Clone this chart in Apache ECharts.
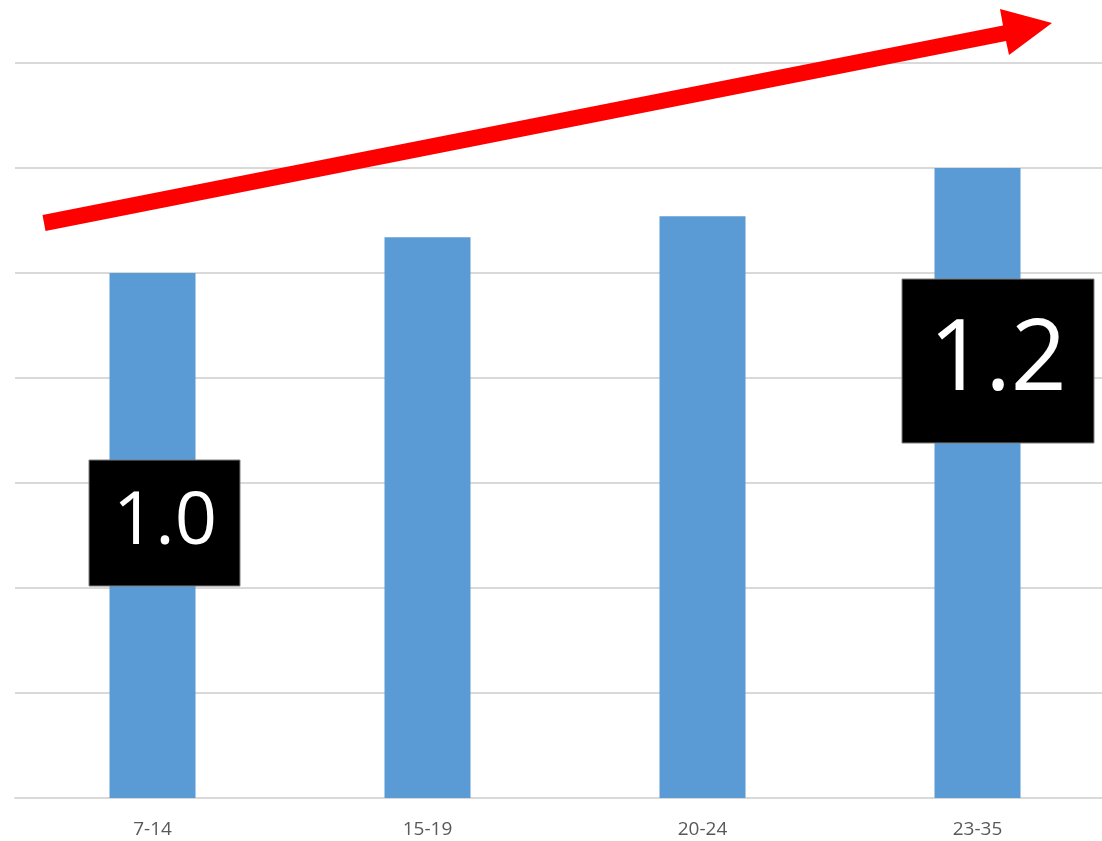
<!DOCTYPE html>
<html>
<head>
<meta charset="utf-8">
<script src="https://cdn.jsdelivr.net/npm/echarts@6/dist/echarts.min.js"></script>
<style>
html,body{margin:0;padding:0;background:#fff;}
#chart{width:1102px;height:841px;}
</style>
</head>
<body>
<div id="chart"></div>
<script>
const categories = ['7-14', '15-19', '20-24', '23-35'];
const values = [1.0, 1.068, 1.108, 1.2];
const calloutTexts = ['1.0', '1.2'];

const chart = echarts.init(document.getElementById('chart'));
chart.setOption({
  animation: false,
  backgroundColor: '#ffffff',
  grid: { left: 15, top: 63, width: 1100, height: 735, containLabel: false, outerBoundsMode: 'none' },
  xAxis: {
    type: 'category',
    data: categories,
    axisLine: { show: true, lineStyle: { color: '#d9d9d9', width: 2 } },
    axisTick: { show: false },
    axisLabel: { color: '#595959', fontSize: 19, fontFamily: 'Open Sans', margin: 22 }
  },
  yAxis: {
    type: 'value',
    min: 0, max: 1.4, interval: 0.2,
    axisLabel: { show: false },
    axisLine: { show: false },
    axisTick: { show: false },
    splitLine: { show: true, lineStyle: { color: '#d9d9d9', width: 2 } }
  },
  series: [{
    type: 'bar',
    data: values,
    barWidth: 86,
    itemStyle: { color: '#5b9bd5' }
  }],
  graphic: [
    {
      type: 'polygon', z: 100, zlevel: 1,
      shape: { points: [[42.5,215],[1003,25.5],[1000,9],[1052,23],[1009,55],[1006,41],[45.5,231]] },
      style: { fill: '#ff0000' }
    },
    { type: 'rect', z: 100, zlevel: 1, shape: { x: 89, y: 460, width: 151, height: 126 }, style: { fill: '#000', stroke: '#7f7f7f', lineWidth: 1 } },
    { type: 'text', z: 101, zlevel: 1, x: 165, y: 523, style: { text: calloutTexts[0], fill: '#fff', font: '74px "Open Sans"', textAlign: 'center', textVerticalAlign: 'middle' } },
    { type: 'rect', z: 100, zlevel: 1, shape: { x: 902, y: 279, width: 192, height: 164 }, style: { fill: '#000', stroke: '#7f7f7f', lineWidth: 1 } },
    { type: 'text', z: 101, zlevel: 1, x: 998, y: 362, style: { text: calloutTexts[1], fill: '#fff', font: '98px "Open Sans"', textAlign: 'center', textVerticalAlign: 'middle' } }
  ]
});
</script>
</body>
</html>
